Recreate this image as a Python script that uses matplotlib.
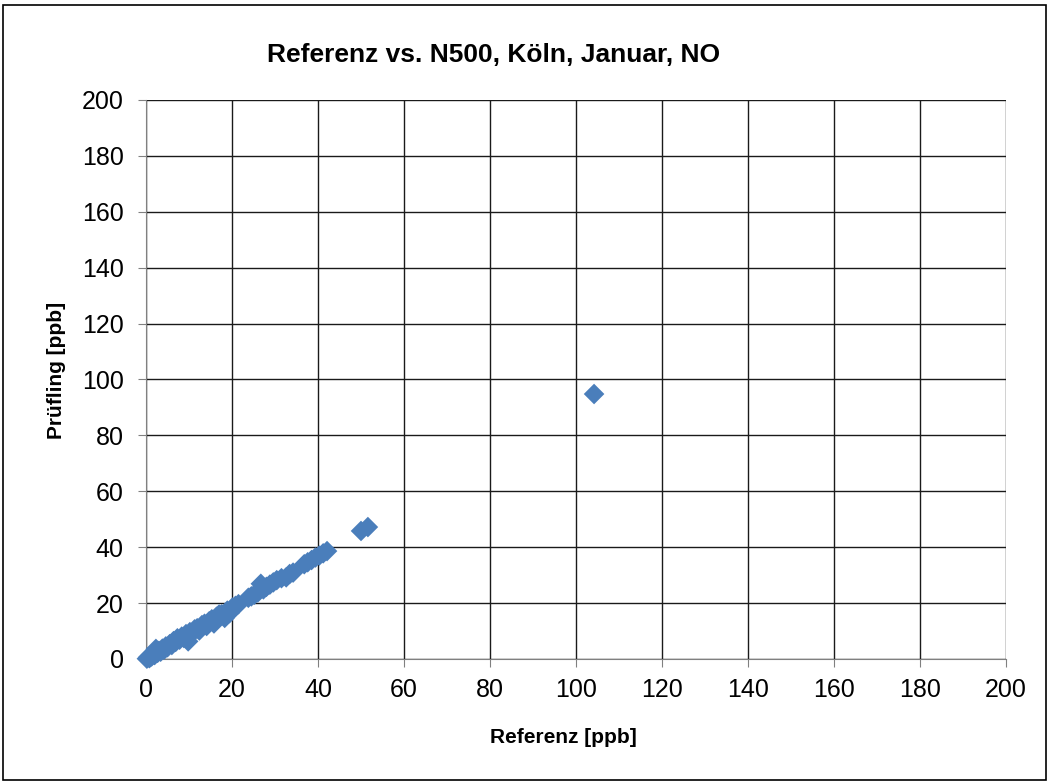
import numpy as np
import matplotlib.pyplot as plt
from matplotlib.patches import Rectangle

plt.rcParams["font.family"] = ["Liberation Sans", "DejaVu Sans"]

# Referenz [ppb] vs. Prüfling [ppb]
referenz = [0.2, 0.5, 0.8, 1.0, 1.3, 1.6, 2.0, 2.3, 2.7, 3.0, 3.4, 3.8, 4.2, 4.6,
            5.0, 5.5, 6.0, 6.4, 6.9, 7.3, 7.8, 8.3, 8.8, 9.3, 9.8, 10.2, 10.8,
            11.3, 11.9, 12.4, 13.0, 13.6, 14.1, 14.7, 15.3, 15.8, 16.4, 17.0,
            17.6, 18.3, 18.9, 19.4, 20.1, 20.8, 21.5, 23.8, 24.5, 25.2, 26.0,
            26.7, 27.3, 28.0, 28.8, 29.6, 30.4, 31.5, 32.6, 33.4, 34.2, 36.8,
            37.6, 38.5, 39.4, 40.3, 41.2, 42.1, 50.0, 51.6, 104.2]
pruefling = [0.1, 0.6, 0.3, 1.2, 0.9, 1.8, 1.4, 3.6, 2.2, 2.9, 2.6, 3.7, 3.3, 4.5,
             4.2, 5.3, 5.0, 6.4, 6.1, 7.4, 6.9, 8.0, 7.5, 8.9, 6.3, 9.6, 9.4,
             10.6, 11.0, 10.2, 12.1, 12.6, 11.8, 13.5, 14.2, 12.7, 15.1, 15.9,
             16.0, 14.7, 17.3, 16.4, 18.4, 19.0, 19.6, 21.9, 22.4, 23.0, 23.8,
             26.9, 24.9, 25.8, 26.6, 27.4, 28.2, 28.9, 29.2, 30.4, 30.9, 33.9,
             34.6, 35.4, 36.3, 37.0, 37.8, 38.6, 45.8, 47.2, 94.8]
ticks = np.arange(0, 201, 20)

fig = plt.figure(figsize=(10.49, 7.83), dpi=100)
fig.patches.append(Rectangle((0.003, 0.004), 0.994, 0.99, transform=fig.transFigure,
                             fill=False, edgecolor="black", linewidth=1.2))
ax = fig.add_axes([0.1392, 0.1584, 0.8198, 0.7139])

ax.scatter(referenz, pruefling, marker="D", s=110, color="#4A7EBB",
           edgecolors="none", zorder=3, clip_on=False)

ax.set_xlim(0, 200)
ax.set_ylim(0, 200)
ax.set_xticks(ticks)
ax.set_yticks(ticks)
ax.grid(True, color="#1a1a1a", linewidth=1.0)
ax.set_axisbelow(True)
for s in ["top", "right"]:
    ax.spines[s].set_visible(False)
for s in ["left", "bottom"]:
    ax.spines[s].set_color("#808080")
ax.tick_params(direction="out", length=6, color="#808080", labelsize=18)
ax.tick_params(axis="y", pad=10)
ax.tick_params(axis="x", pad=8)

fig.text(0.4705, 0.93, "Referenz vs. N500, Köln, Januar, NO", ha="center",
         va="center", fontsize=19, fontweight="bold")
fig.text(0.537, 0.0575, "Referenz [ppb]", ha="center", va="center",
         fontsize=15, fontweight="bold")
fig.text(0.054, 0.527, "Prüfling [ppb]", ha="center", va="center",
         fontsize=15, fontweight="bold", rotation=90)

fig.savefig("out.png", dpi=100)
